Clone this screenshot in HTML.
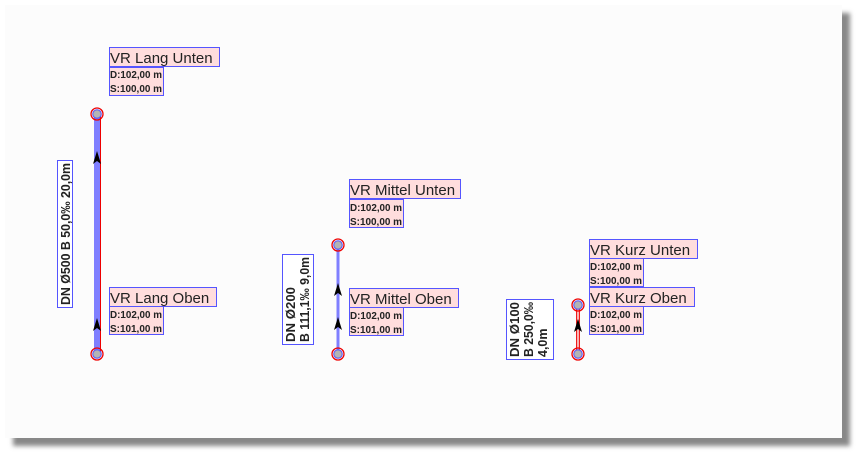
<!DOCTYPE html>
<html><head><meta charset="utf-8"><style>
html,body{margin:0;padding:0;background:#fff;}
svg{display:block;}
.t{font-family:"Liberation Sans",sans-serif;fill:#222;}
.s{font-size:10.5px;font-weight:bold;}
.v{font-size:12.5px;font-weight:bold;}
</style></head><body>
<svg width="860" height="454" viewBox="0 0 860 454" xmlns="http://www.w3.org/2000/svg">
<defs>
<filter id="sh" x="-5%" y="-5%" width="110%" height="115%"><feGaussianBlur stdDeviation="2.5"/></filter>
<g id="node">
<circle r="6" fill="none" stroke="#e00" stroke-width="1.3"/>
<circle r="4.3" fill="#aaa" stroke="#55f" stroke-width="1"/>
<circle r="3.3" fill="#b4b4b4"/>
</g>
<path id="arr" d="M0,0 L-4,13 L0,10 L4,13 Z" fill="#000"/>
</defs>
<rect x="13" y="13" width="837" height="433" fill="#888" filter="url(#sh)"/>
<rect x="5" y="5" width="837" height="433" fill="#fcfcfc"/>

<!-- Lang -->
<rect x="94" y="114" width="7" height="240" fill="#7f7fff"/>
<line x1="100.5" y1="114" x2="100.5" y2="354" stroke="#e00" stroke-width="1"/>
<use href="#arr" x="97" y="151"/>
<use href="#arr" x="97" y="318"/>
<use href="#node" x="97" y="114"/>
<use href="#node" x="97" y="354"/>
<rect x="57.5" y="160.5" width="15" height="147" fill="#fff" stroke="#55f"/>
<text class="t v" textLength="142" lengthAdjust="spacingAndGlyphs" transform="translate(70,305) rotate(-90)">DN Ø500 B 50,0‰ 20,0m</text>

<rect x="109.5" y="47.5" width="110" height="19" fill="#fdd" stroke="#55f"/>
<text class="t" x="110" y="63" font-size="15">VR Lang Unten</text>
<rect x="109.5" y="67.5" width="54" height="28" fill="#fdd" stroke="#55f"/>
<text class="t s" x="110" y="78" textLength="52" lengthAdjust="spacingAndGlyphs">D:102,00 m</text>
<text class="t s" x="110" y="92" textLength="52" lengthAdjust="spacingAndGlyphs">S:100,00 m</text>

<rect x="109.5" y="287.5" width="107" height="19" fill="#fdd" stroke="#55f"/>
<text class="t" x="110" y="303" font-size="15">VR Lang Oben</text>
<rect x="109.5" y="306.5" width="54" height="28" fill="#fdd" stroke="#55f"/>
<text class="t s" x="110" y="318" textLength="52" lengthAdjust="spacingAndGlyphs">D:102,00 m</text>
<text class="t s" x="110" y="332" textLength="52" lengthAdjust="spacingAndGlyphs">S:101,00 m</text>

<!-- Mittel -->
<rect x="336.5" y="245" width="3" height="109" fill="#7f7fff"/>
<use href="#arr" x="338" y="283"/>
<use href="#arr" x="338" y="317"/>
<use href="#node" x="338" y="245"/>
<use href="#node" x="338" y="354"/>
<rect x="282.5" y="254.5" width="31" height="90" fill="#fff" stroke="#55f"/>
<text class="t v" textLength="55" lengthAdjust="spacingAndGlyphs" transform="translate(295,342) rotate(-90)">DN Ø200</text>
<text class="t v" textLength="85" lengthAdjust="spacingAndGlyphs" transform="translate(309,342) rotate(-90)">B 111,1‰ 9,0m</text>

<rect x="349.5" y="179.5" width="111" height="19" fill="#fdd" stroke="#55f"/>
<text class="t" x="350" y="195" font-size="15">VR Mittel Unten</text>
<rect x="349.5" y="199.5" width="54" height="28" fill="#fdd" stroke="#55f"/>
<text class="t s" x="350" y="211" textLength="52" lengthAdjust="spacingAndGlyphs">D:102,00 m</text>
<text class="t s" x="350" y="225" textLength="52" lengthAdjust="spacingAndGlyphs">S:100,00 m</text>

<rect x="349.5" y="288.5" width="109" height="19" fill="#fdd" stroke="#55f"/>
<text class="t" x="350" y="304" font-size="15">VR Mittel Oben</text>
<rect x="349.5" y="307.5" width="54" height="28" fill="#fdd" stroke="#55f"/>
<text class="t s" x="350" y="319" textLength="52" lengthAdjust="spacingAndGlyphs">D:102,00 m</text>
<text class="t s" x="350" y="333" textLength="52" lengthAdjust="spacingAndGlyphs">S:101,00 m</text>

<!-- Kurz -->
<line x1="576.7" y1="305" x2="576.7" y2="354" stroke="#e00" stroke-width="1.2"/>
<line x1="579.3" y1="305" x2="579.3" y2="354" stroke="#e00" stroke-width="1.2"/>
<use href="#arr" x="578" y="319"/>
<use href="#node" x="578" y="305"/>
<use href="#node" x="578" y="354"/>
<rect x="506.5" y="299.5" width="47" height="60" fill="#fff" stroke="#55f"/>
<text class="t v" textLength="55" lengthAdjust="spacingAndGlyphs" transform="translate(519,357) rotate(-90)">DN Ø100</text>
<text class="t v" textLength="55" lengthAdjust="spacingAndGlyphs" transform="translate(533,357) rotate(-90)">B 250,0‰</text>
<text class="t v" transform="translate(547,357) rotate(-90)">4,0m</text>

<rect x="589.5" y="239.5" width="108" height="19" fill="#fdd" stroke="#55f"/>
<text class="t" x="590" y="255" font-size="15">VR Kurz Unten</text>
<rect x="589.5" y="258.5" width="54" height="28" fill="#fdd" stroke="#55f"/>
<text class="t s" x="590" y="270" textLength="52" lengthAdjust="spacingAndGlyphs">D:102,00 m</text>
<text class="t s" x="590" y="284" textLength="52" lengthAdjust="spacingAndGlyphs">S:100,00 m</text>

<rect x="589.5" y="287.5" width="105" height="19" fill="#fdd" stroke="#55f"/>
<text class="t" x="590" y="303" font-size="15">VR Kurz Oben</text>
<rect x="589.5" y="306.5" width="54" height="28" fill="#fdd" stroke="#55f"/>
<text class="t s" x="590" y="318" textLength="52" lengthAdjust="spacingAndGlyphs">D:102,00 m</text>
<text class="t s" x="590" y="332" textLength="52" lengthAdjust="spacingAndGlyphs">S:101,00 m</text>
</svg>
</body></html>
